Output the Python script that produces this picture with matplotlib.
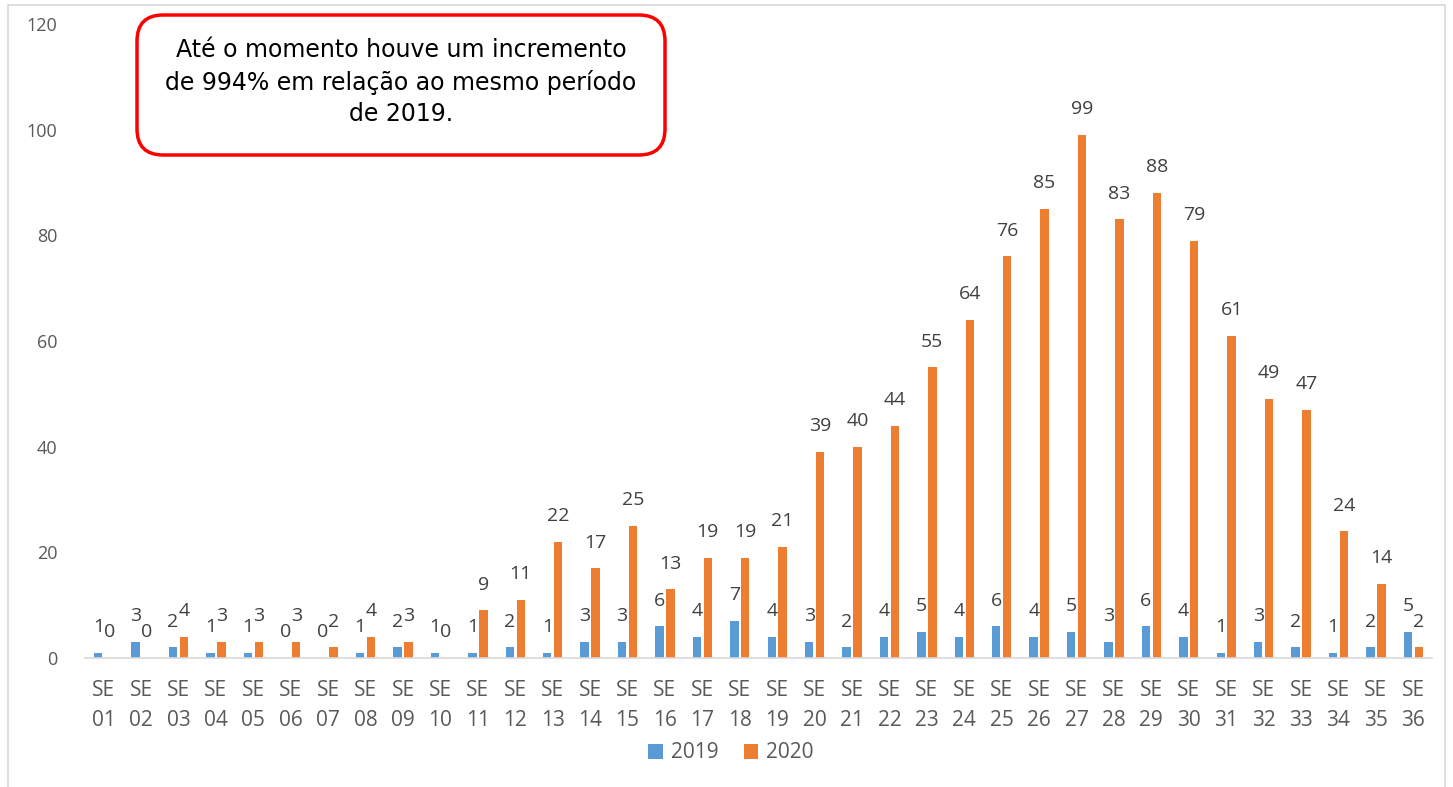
import numpy as np
import matplotlib
matplotlib.use('Agg')
from matplotlib import pyplot as plt
from matplotlib.patches import FancyBboxPatch, Rectangle

# semanas epidemiológicas e casos por ano
semanas = ['SE\n%02d' % i for i in range(1, 37)]
casos_2019 = [1, 3, 2, 1, 1, 0, 0, 1, 2, 1, 1, 2, 1, 3, 3, 6, 4, 7,
              4, 3, 2, 4, 5, 4, 6, 4, 5, 3, 6, 4, 1, 3, 2, 1, 2, 5]
casos_2020 = [0, 0, 4, 3, 3, 3, 2, 4, 3, 0, 9, 11, 22, 17, 25, 13, 19, 19,
              21, 39, 40, 44, 55, 64, 76, 85, 99, 83, 88, 79, 61, 49, 47, 24, 14, 2]
y_ticks = [0, 20, 40, 60, 80, 100, 120]
nota = "Até o momento houve um incremento\nde 994% em relação ao mesmo período\nde 2019."

plt.rcParams['font.family'] = ['Open Sans', 'DejaVu Sans']

azul = '#5B9BD5'
laranja = '#ED7D31'
cinza = '#595959'

W, H = 1453, 787
fig = plt.figure(figsize=(W / 100, H / 100), dpi=100)
ax = fig.add_axes([85 / W, 1 - 658 / H, (1432 - 85) / W, (658 - 24) / H])

x = np.arange(len(semanas))
w = 0.225
b1 = ax.bar(x - 0.145, casos_2019, w, color=azul, label='2019')
b2 = ax.bar(x + 0.145, casos_2020, w, color=laranja, label='2020')

# rótulos de dados
for barras, vals in ((b1, casos_2019), (b2, casos_2020)):
	for r, v in zip(barras, vals):
		ax.annotate(str(v), (r.get_x() + r.get_width() / 2, v),
		            xytext=(0, 12), textcoords='offset points',
		            ha='center', va='bottom', fontsize=14, color='#404040')

ax.set_xlim(-0.5, len(semanas) - 0.5)
ax.set_ylim(0, 120)
ax.set_yticks(y_ticks)
ax.set_xticks(x)
ax.set_xticklabels(semanas, fontsize=15, color=cinza, linespacing=1.55)
ax.tick_params(axis='y', labelsize=13, colors=cinza, length=0, pad=20)
ax.tick_params(axis='x', length=0, pad=16)
for s in ['top', 'right', 'left']:
	ax.spines[s].set_visible(False)
ax.spines['bottom'].set_color('#D9D9D9')
ax.spines['bottom'].set_linewidth(1.2)

ax.legend(loc='center', bbox_to_anchor=(731 / W, 1 - 753 / H), bbox_transform=fig.transFigure,
          ncol=2, frameon=False, fontsize=15, labelcolor=cinza, handlelength=0.7,
          handleheight=0.7, handletextpad=0.4, columnspacing=1.2)

# caixa com a nota
caixa = FancyBboxPatch((137 / W, 1 - 155 / H), (665 - 137) / W, (155 - 15) / H,
                       boxstyle='round,pad=0,rounding_size=0.018',
                       transform=fig.transFigure, facecolor='white', edgecolor='#FF0000',
                       linewidth=2.5, mutation_aspect=W / H)
fig.patches.append(caixa)
fig.text(401 / W, 1 - 82 / H, nota, ha='center', va='center', fontsize=17,
         family=['DejaVu Sans'], color='black', linespacing=1.4)

# moldura do gráfico
fig.patches.append(Rectangle((8 / W, -0.05), (1445 - 8) / W, 1 - 5 / H + 0.05,
                             transform=fig.transFigure, fill=False,
                             edgecolor='#D9D9D9', linewidth=1.2))

fig.savefig('out.png', dpi=100)
